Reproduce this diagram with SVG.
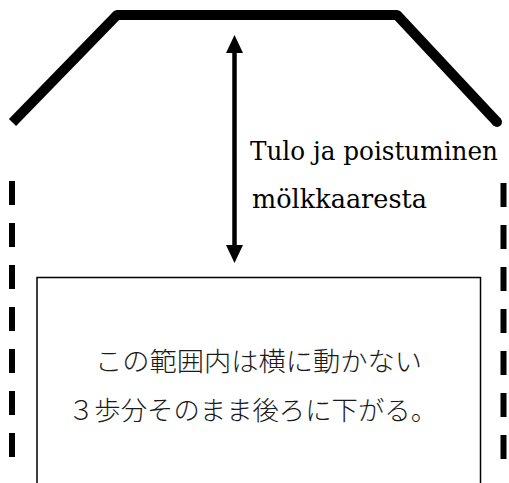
<svg xmlns="http://www.w3.org/2000/svg" width="509" height="483" viewBox="0 0 509 483">
<style>
.lat{font-family:"DejaVu Serif","Liberation Serif",serif;font-size:25.5px;fill:#000}
.jp{font-family:"Noto Sans CJK JP","Noto Sans CJK SC",sans-serif;font-size:26.5px;font-weight:300;fill:#1a1a1a}
.dash{stroke:#000;stroke-width:6;stroke-dasharray:24 18;fill:none}
</style>
<rect width="509" height="483" fill="#fff"/>
<g id="wall">
<path d="M12.5,122.5 L117,15 L397,15 L497,122" fill="none" stroke="#000" stroke-width="10" stroke-linejoin="round"/>
<circle cx="497" cy="122" r="5" fill="#000"/>
</g>
<g id="side-lines">
<line class="dash" x1="12" y1="181" x2="12" y2="460"/>
<line class="dash" x1="503.5" y1="183" x2="503.5" y2="460"/>
</g>
<g id="zone">
<rect x="37" y="277.5" width="443.5" height="220" fill="none" stroke="#000" stroke-width="1.5"/>
<text class="jp" x="95" y="371" textLength="327" lengthAdjust="spacingAndGlyphs">この範囲内は横に動かない</text>
<text class="jp" x="68" y="420" textLength="369" lengthAdjust="spacingAndGlyphs">３歩分そのまま後ろに下がる。</text>
</g>
<g id="connectors">
<line x1="234.5" y1="50" x2="234.5" y2="248" stroke="#000" stroke-width="4.5"/>
<polygon points="234.5,35 243,53 226,53" fill="#000"/>
<polygon points="234.5,263 243,245 226,245" fill="#000"/>
</g>
<g id="label">
<text class="lat" x="250" y="160" textLength="248" lengthAdjust="spacingAndGlyphs">Tulo ja poistuminen</text>
<text class="lat" x="252" y="208" textLength="175" lengthAdjust="spacingAndGlyphs">mölkkaaresta</text>
</g>
</svg>
